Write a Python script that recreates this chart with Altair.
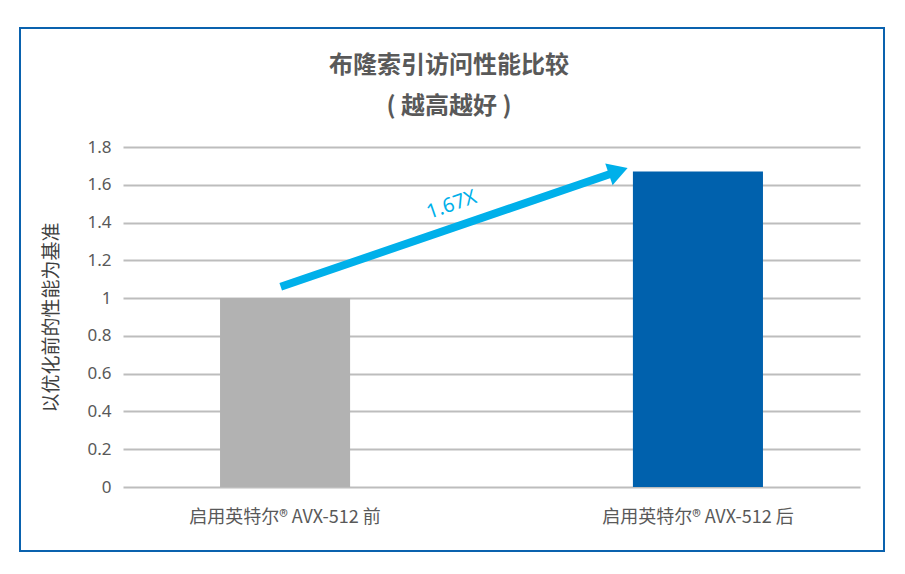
import altair as alt
import pandas as pd

categories = ["启用英特尔® AVX-512 前", "启用英特尔® AVX-512 后"]
values = [1.0, 1.67]
bar_colors = ["#b2b2b2", "#0061ad"]
y_ticks = [0, 0.2, 0.4, 0.6, 0.8, 1.0, 1.2, 1.4, 1.6, 1.8]
title_lines = ["布隆索引访问性能比较", "( 越高越好 )"]

# arrow annotation (x as fraction of plot width, y in data units)
arrow_x = [0.214, 0.672]
arrow_y = [1.06, 1.672]
arrow_label = "1.67X"
label_pos = [0.446, 1.493]

FONT = "Noto Sans CJK SC"

bars_df = pd.DataFrame({"cat": categories, "val": values, "color": bar_colors})
arrow_df = pd.DataFrame({
    "x1": [arrow_x[0]], "y1": [arrow_y[0]],
    "x2": [arrow_x[1]], "y2": [arrow_y[1]],
    "tx": [label_pos[0]], "ty": [label_pos[1]], "label": [arrow_label],
})
title_df = pd.DataFrame({"t1": [title_lines[0]], "t2": [title_lines[1]]})

bars = alt.Chart(bars_df).mark_bar().encode(
    x=alt.X("cat:N", sort=categories, title=None,
            scale=alt.Scale(paddingInner=0.685, paddingOuter=0.235),
            axis=alt.Axis(labelAngle=0, labelFontSize=18, labelColor="#595959",
                          labelFont=FONT, ticks=False, domain=False, labelPadding=21,
                          labelLimit=500)),
    y=alt.Y("val:Q", title="以优化前的性能为基准",
            scale=alt.Scale(domain=[0, 1.8], nice=False),
            axis=alt.Axis(values=y_ticks, labelFontSize=17, labelColor="#595959",
                          labelFont="Noto Sans", ticks=False, domain=False, labelPadding=12,
                          gridColor="#bdbdbd", gridWidth=2, titleFont=FONT,
                          titleFontSize=19, titleFontWeight="normal",
                          titleColor="#404040", titlePadding=25,
                          labelExpr="format(datum.value, '.1~f')")),
    color=alt.Color("color:N", scale=None),
)

xq = alt.Scale(domain=[0, 1])
yq = alt.Scale(domain=[0, 1.8], nice=False)

arrow_line = alt.Chart(arrow_df).mark_rule(color="#00b0ea", strokeWidth=8, strokeCap="butt").encode(
    x=alt.X("x1:Q", scale=xq, axis=None),
    y=alt.Y("y1:Q", scale=yq, axis=None),
    x2="x2:Q",
    y2="y2:Q",
)
arrow_head = alt.Chart(arrow_df).mark_point(shape="triangle-right", filled=True, size=520,
                                             color="#00b0ea", opacity=1, angle=341.3).encode(
    x=alt.X("x2:Q", scale=xq, axis=None),
    y=alt.Y("y2:Q", scale=yq, axis=None),
)
arrow_text = alt.Chart(arrow_df).mark_text(color="#00b0ea", fontSize=20, font="Noto Sans",
                                            angle=341, align="center", baseline="middle").encode(
    x=alt.X("tx:Q", scale=xq, axis=None),
    y=alt.Y("ty:Q", scale=yq, axis=None),
    text="label:N",
)
border = alt.Chart(arrow_df).mark_rect(filled=False, stroke="#0a62ae", strokeWidth=2).encode(
    x=alt.value(-103), x2=alt.value(761), y=alt.value(-119), y2=alt.value(404),
)
title1 = alt.Chart(title_df).mark_text(font=FONT, fontSize=24, fontWeight="bold", color="#595959",
                                        align="center", baseline="middle").encode(
    x=alt.value(326), y=alt.value(-81), text="t1:N")
title2 = alt.Chart(title_df).mark_text(font=FONT, fontSize=24, fontWeight="bold", color="#595959",
                                        align="center", baseline="middle").encode(
    x=alt.value(326), y=alt.value(-40), text="t2:N")

chart = alt.layer(bars, arrow_line, arrow_head, arrow_text, border, title1, title2).resolve_scale(
    x="independent", y="independent"
).properties(
    width=737, height=340,
    autosize=alt.AutoSizeParams(type="none"),
    padding={"left": 115, "top": 139, "right": 30, "bottom": 70},
).configure_view(stroke=None)

chart.save("out.html", embed_options={"renderer": "svg", "actions": False})
